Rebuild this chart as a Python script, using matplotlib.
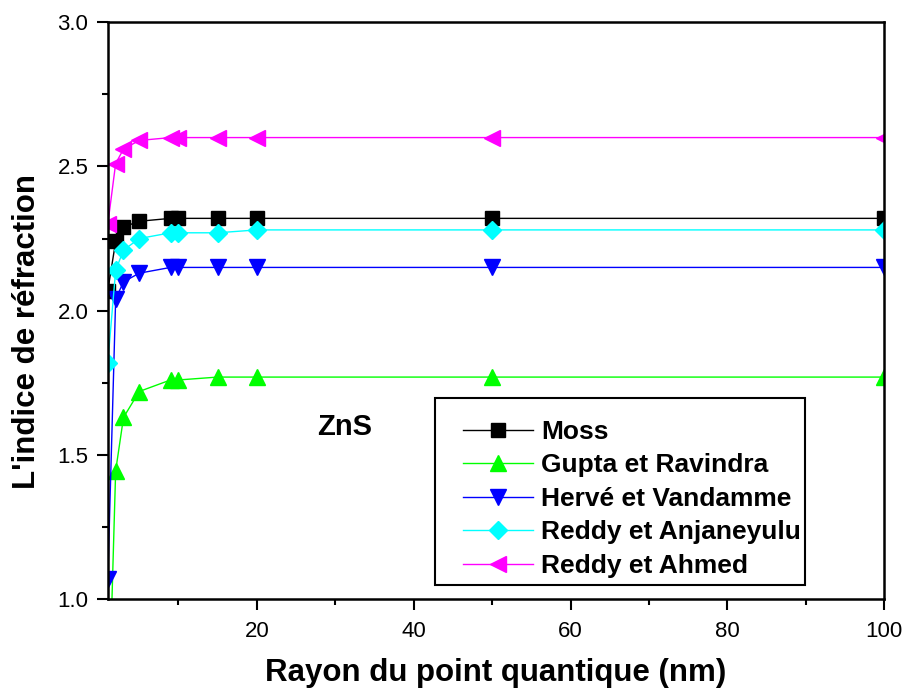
import matplotlib
matplotlib.use("Agg")
import matplotlib.pyplot as plt
from matplotlib.ticker import MultipleLocator, FixedLocator
from matplotlib.patches import Rectangle

x = [1, 2, 3, 5, 9, 10, 15, 20, 50, 100]
moss = [2.07, 2.24, 2.29, 2.31, 2.32, 2.32, 2.32, 2.32, 2.32, 2.32]
gupta = [0.5, 1.445, 1.63, 1.72, 1.76, 1.76, 1.77, 1.77, 1.77, 1.77]
herve = [1.07, 2.04, 2.10, 2.13, 2.15, 2.15, 2.15, 2.15, 2.15, 2.15]
anjaneyulu = [1.82, 2.14, 2.21, 2.25, 2.27, 2.27, 2.27, 2.28, 2.28, 2.28]
ahmed = [2.30, 2.51, 2.56, 2.59, 2.60, 2.60, 2.60, 2.60, 2.60, 2.60]
labels = ["Moss", "Gupta et Ravindra", "Hervé et Vandamme",
          "Reddy et Anjaneyulu", "Reddy et Ahmed"]
xticks = [20, 40, 60, 80, 100]
yticks = [1.0, 1.5, 2.0, 2.5, 3.0]

FONT = "Liberation Sans"
fig = plt.figure(figsize=(9.06, 6.92), dpi=100)
ax = fig.add_axes([0.119, 0.134, 0.857, 0.834])

series = [moss, gupta, herve, anjaneyulu, ahmed]
colors = ["black", "#00ff00", "#0000ff", "#00ffff", "#ff00ff"]
markers = ["s", "^", "v", "D", "<"]
msizes = [9.5, 12, 12, 9.5, 12]
for y, c, m, ms, lab in zip(series, colors, markers, msizes, labels):
    ax.plot(x, y, color=c, marker=m, markersize=ms, lw=1.0,
            markeredgecolor=c, label=lab)

ax.set_xlim(1, 100)
ax.set_ylim(1.0, 3.0)
ax.xaxis.set_major_locator(FixedLocator(xticks))
ax.xaxis.set_minor_locator(FixedLocator([10, 30, 50, 70, 90]))
ax.yaxis.set_major_locator(FixedLocator(yticks))
ax.yaxis.set_minor_locator(MultipleLocator(0.25))
ax.set_xticklabels([str(v) for v in xticks])
ax.set_yticklabels([f"{v:.1f}" for v in yticks])

for lab in ax.get_xticklabels() + ax.get_yticklabels():
    lab.set_fontfamily(FONT)
    lab.set_fontsize(16)

ax.tick_params(which="major", direction="out", length=8, width=1.5,
               top=False, right=False, pad=6)
ax.tick_params(which="minor", direction="out", length=4, width=1.5,
               top=False, right=False)
ax.tick_params(axis="x", which="major", pad=8)
for s in ax.spines.values():
    s.set_linewidth(1.8)

ax.set_xlabel("Rayon du point quantique (nm)", fontsize=22.5, fontweight="bold",
              fontfamily=FONT, va="center", ha="center")
ax.xaxis.set_label_coords(0.5, -0.1285)
ax.set_ylabel("L'indice de réfraction", fontsize=22.5, fontweight="bold",
              fontfamily=FONT, va="center", ha="center")
ax.yaxis.set_label_coords(-0.104, 0.464)

ax.text(0.305, 0.298, "ZnS", transform=ax.transAxes, fontsize=21,
        fontweight="bold", fontfamily=FONT, ha="center", va="center")

ax.add_patch(Rectangle((0.4214, 0.0243), 0.477, 0.324, transform=ax.transAxes,
                       fill=False, edgecolor="black", lw=1.5, zorder=5))
leg = ax.legend(loc="upper left", bbox_to_anchor=(0.458, 0.311),
                prop={"family": FONT, "weight": "bold", "size": 19},
                frameon=False, handlelength=2.65, handleheight=0.7,
                labelspacing=0.36, borderpad=0, handletextpad=0.3, numpoints=1,
                borderaxespad=0)

fig.savefig("out.png", dpi=100)
